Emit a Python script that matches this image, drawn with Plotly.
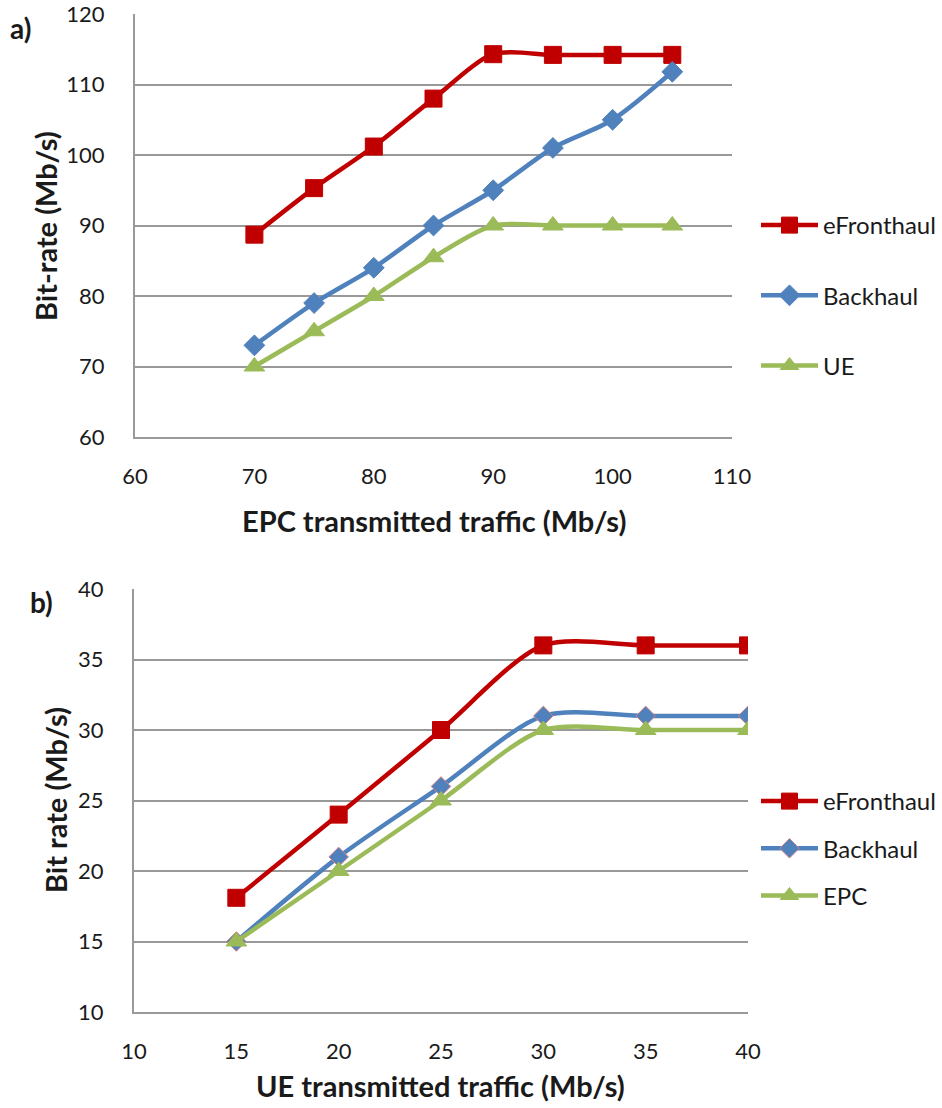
import plotly.graph_objects as go

# ---- Data ----
x_a = [70, 75, 80, 85, 90, 95, 100, 105]
efronthaul_a = [88.7, 95.3, 101.2, 108.0, 114.3, 114.2, 114.2, 114.2]
backhaul_a = [73.0, 79.0, 84.0, 90.0, 95.0, 101.0, 105.0, 111.8]
ue_a = [70.0, 75.0, 80.0, 85.5, 90.0, 90.0, 90.0, 90.0]

x_b = [15, 20, 25, 30, 35, 40]
efronthaul_b = [18.1, 24.0, 30.0, 36.0, 36.0, 36.0]
backhaul_b = [15.0, 21.0, 26.0, 31.0, 31.0, 31.0]
epc_b = [15.0, 20.0, 25.0, 30.0, 30.0, 30.0]

W, H = 942, 1108
FONT = "Lato"
RED = "#C00000"
BLUE = "#4F81BD"
GREEN = "#9BBB59"
GRID = "#999999"
TXT = "#1a1a1a"
TICK = 22
TITLE = 29
LEG = 24


def px(x):
    return x / W


def py(y):
    return 1 - y / H


fig = go.Figure()


def add_series(x, y, name, color, symbol, size, xa, ya, legend, group, line_color=None):
    fig.add_trace(go.Scatter(
        x=x, y=y, name=name, mode="lines+markers",
        line=dict(color=color, width=4.5, shape="spline", smoothing=0.8),
        marker=dict(symbol=symbol, size=size, color=color,
                    line=dict(color=line_color or color, width=1)),
        xaxis=xa, yaxis=ya, legend=legend, legendgroup=group,
    ))


add_series(x_a, efronthaul_a, "eFronthaul", RED, "square", 17, "x", "y", "legend", "a1")
add_series(x_a, backhaul_a, "Backhaul", BLUE, "diamond", 16, "x", "y", "legend", "a2")
add_series(x_a, ue_a, "UE", GREEN, "triangle-up", 18, "x", "y", "legend", "a3")

add_series(x_b, efronthaul_b, "eFronthaul", RED, "square", 17, "x2", "y2", "legend2", "b1")
add_series(x_b, backhaul_b, "Backhaul", BLUE, "diamond", 15, "x2", "y2", "legend2", "b2", line_color="#D98080")
add_series(x_b, epc_b, "EPC", GREEN, "triangle-up", 18, "x2", "y2", "legend2", "b3")

axis_common = dict(
    showline=True, linecolor=GRID, linewidth=2, mirror=False,
    ticks="", zeroline=False, ticklabeloverflow="allow",
    tickfont=dict(family=FONT, size=TICK, color=TXT),
)

fig.update_layout(
    width=W, height=H,
    margin=dict(l=0, r=0, t=0, b=0, autoexpand=False),
    paper_bgcolor="white", plot_bgcolor="white",
    font=dict(family=FONT, color=TXT),
    xaxis=dict(domain=[px(135), px(732)], anchor="y", range=[60, 110], dtick=10,
               showgrid=False, ticklabelstandoff=19, **axis_common),
    yaxis=dict(domain=[py(437), py(14)], anchor="x", range=[60, 120], dtick=10,
               showgrid=True, gridcolor=GRID, gridwidth=2, ticklabelstandoff=24,
               **axis_common),
    xaxis2=dict(domain=[px(134), px(748)], anchor="y2", range=[10, 40], dtick=5,
                showgrid=False, ticklabelstandoff=19, **axis_common),
    yaxis2=dict(domain=[py(1012), py(589)], anchor="x2", range=[10, 40], dtick=5,
                showgrid=True, gridcolor=GRID, gridwidth=2, ticklabelstandoff=24,
                **axis_common),
    legend=dict(x=px(756), y=py(203), xanchor="left", yanchor="top",
                font=dict(family=FONT, size=LEG, color=TXT),
                tracegroupgap=36, bgcolor="rgba(0,0,0,0)", itemwidth=57),
    legend2=dict(x=px(756), y=py(779), xanchor="left", yanchor="top",
                 font=dict(family=FONT, size=LEG, color=TXT),
                 tracegroupgap=13, bgcolor="rgba(0,0,0,0)", itemwidth=57),
    showlegend=True,
)


def ann(text, x, y, size, angle=0, xanchor="center"):
    fig.add_annotation(text=text, x=px(x), y=py(y), xref="paper", yref="paper",
                       xanchor=xanchor, yanchor="middle", showarrow=False, textangle=angle,
                       font=dict(family=FONT, size=size, color=TXT))


ann("<b>a)</b>", 8, 28, 28, xanchor="left")
ann("<b>b)</b>", 28, 602, 28, xanchor="left")
ann("<b>EPC transmitted traffic (Mb/s)</b>", 434, 520, TITLE)
ann("<b>UE transmitted traffic (Mb/s)</b>", 440, 1085, TITLE)
ann("<b>Bit-rate (Mb/s)</b>", 45, 226, TITLE, angle=-90)
ann("<b>Bit rate (Mb/s)</b>", 55, 800, TITLE, angle=-90)

fig.write_html("out.html", config={"displayModeBar": False},
               post_script="document.body.style.margin='0px';")
